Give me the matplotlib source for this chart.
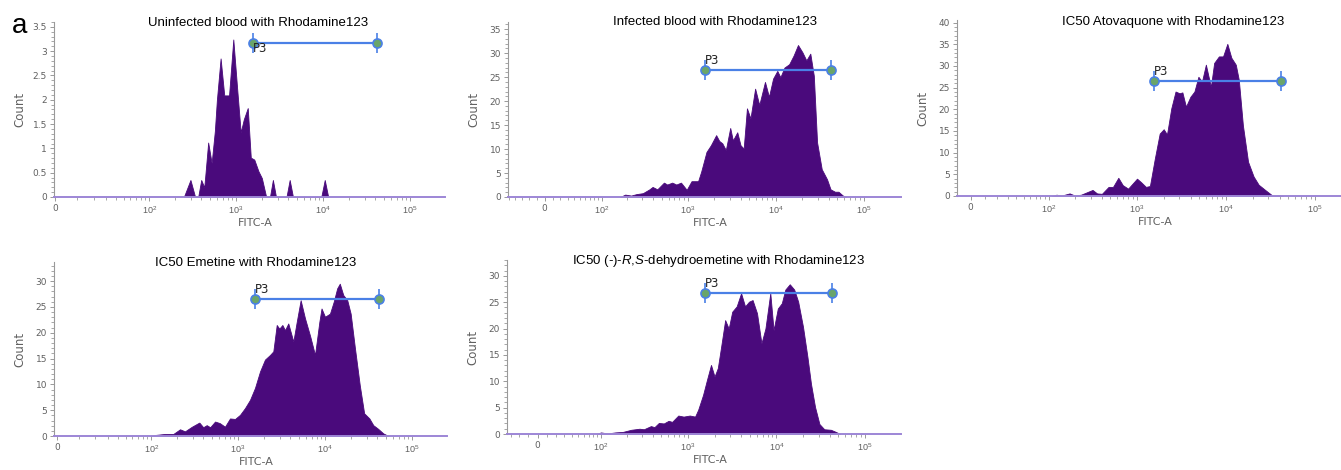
import numpy as np
import matplotlib
matplotlib.use("Agg")
import matplotlib.pyplot as plt
from matplotlib.ticker import FixedLocator, MultipleLocator, FuncFormatter

plt.rcParams['mathtext.fontset'] = 'custom'
plt.rcParams['mathtext.rm'] = 'Liberation Sans'
plt.rcParams['mathtext.it'] = 'Liberation Sans:italic'

W, H, DPI = 1341, 470, 100

# ---- histogram data: log10(FITC-A) and event count ----
uninfected_log = [2.40, 2.476, 2.53, 2.565, 2.60, 2.635, 2.65, 2.68, 2.72, 2.757, 2.78, 2.823,
                  2.865, 2.92, 2.969, 3.015, 3.054, 3.09, 3.135, 3.17, 3.21, 3.258, 3.297, 3.347,
                  3.39, 3.424, 3.46, 3.58, 3.617, 3.655, 3.98, 4.02, 4.06]
uninfected_count = [0, 0.35, 0, 0, 0.35, 0.2, 0.5, 1.12, 0.70, 1.36, 1.99, 2.85,
                    2.09, 2.09, 3.24, 2.19, 1.33, 1.6, 1.83, 0.81, 0.77, 0.53, 0.39, 0,
                    0, 0.35, 0, 0, 0.35, 0, 0, 0.35, 0]

infected_log = [2.22, 2.28, 2.35, 2.41, 2.485, 2.56, 2.596, 2.65, 2.726, 2.763, 2.82, 2.867,
                2.92, 2.985, 3.04, 3.115, 3.15, 3.21, 3.26, 3.32, 3.355, 3.39, 3.43, 3.48,
                3.51, 3.56, 3.597, 3.633, 3.67, 3.71, 3.763, 3.81, 3.875, 3.92, 3.967, 4.015,
                4.05, 4.096, 4.15, 4.2, 4.25, 4.3, 4.345, 4.39, 4.43, 4.467, 4.52, 4.58,
                4.62, 4.67, 4.71, 4.76, 4.80]
infected_count = [0, 0.5, 0.3, 0.6, 0.8, 1.6, 2.1, 1.6, 3.0, 2.6, 3.0, 2.6,
                  3.0, 1.5, 3.3, 3.3, 5.3, 9.4, 10.8, 12.9, 11.7, 11.2, 9.8, 14.4,
                  11.8, 13.5, 10.8, 10.1, 18.5, 16.4, 22.6, 19.2, 24.0, 20.9, 24.7, 26.3,
                  25.0, 27.0, 27.7, 29.5, 31.7, 30.2, 28.5, 29.9, 25.3, 11.4, 5.8, 3.7,
                  1.6, 1.1, 1.1, 0.3, 0]

atovaquone_log = [2.04, 2.09, 2.15, 2.24, 2.30, 2.37, 2.5, 2.55, 2.605, 2.68, 2.73, 2.79,
                  2.84, 2.90, 3.0, 3.045, 3.10, 3.145, 3.2, 3.255, 3.3, 3.337, 3.385, 3.433,
                  3.478, 3.51, 3.55, 3.6, 3.645, 3.69, 3.73, 3.774, 3.8, 3.83, 3.867, 3.92,
                  3.967, 4.015, 4.06, 4.11, 4.144, 4.19, 4.248, 4.31, 4.367, 4.44, 4.515, 4.55,
                  4.59, 4.64]
atovaquone_count = [0, 0.3, 0.1, 0.6, 0.1, 0.3, 1.4, 0.6, 0.5, 2.1, 2.1, 4.2,
                    2.5, 1.7, 4.0, 3.2, 2.1, 2.3, 8.6, 14.4, 15.4, 14.2, 20.2, 24.1,
                    23.7, 23.9, 20.6, 22.9, 24.1, 27.5, 26.4, 30.3, 27.9, 25.2, 30.7, 32.2,
                    32.2, 35.1, 31.9, 30.3, 26.8, 16.3, 7.9, 4.5, 2.6, 1.4, 0.2, 0.1,
                    0.2, 0]

emetine_log = [1.98, 2.046, 2.16, 2.256, 2.333, 2.39, 2.47, 2.555, 2.6, 2.64, 2.68, 2.736,
               2.79, 2.85, 2.908, 2.966, 3.023, 3.08, 3.138, 3.195, 3.253, 3.31, 3.368, 3.406,
               3.445, 3.475, 3.51, 3.54, 3.578, 3.636, 3.675, 3.72, 3.77, 3.83, 3.885, 3.935,
               3.96, 4.0, 4.057, 4.1, 4.14, 4.17, 4.21, 4.256, 4.295, 4.345, 4.4, 4.45,
               4.51, 4.555, 4.61, 4.67, 4.73]
emetine_count = [0, 0.2, 0.4, 0.4, 1.3, 0.9, 1.8, 2.6, 1.7, 2.1, 1.7, 2.8,
                 2.5, 1.8, 3.4, 3.3, 4.1, 5.4, 7.0, 9.3, 12.5, 14.8, 15.7, 16.4,
                 21.5, 20.8, 21.5, 20.5, 21.8, 18.3, 22.1, 26.3, 22.8, 19.3, 15.7, 22.1,
                 24.7, 23.1, 23.7, 26.0, 28.6, 29.5, 27.3, 26.3, 23.7, 16.9, 9.8, 4.4,
                 3.4, 2.1, 1.4, 0.5, 0]

dehydroemetine_log = [1.95, 2.0, 2.08, 2.17, 2.26, 2.355, 2.45, 2.5, 2.58, 2.62, 2.67, 2.726,
                      2.78, 2.82, 2.89, 2.95, 3.02, 3.08, 3.115, 3.17, 3.215, 3.26, 3.3, 3.337,
                      3.375, 3.42, 3.46, 3.5, 3.55, 3.6, 3.645, 3.69, 3.73, 3.78, 3.83, 3.875,
                      3.93, 3.967, 4.015, 4.06, 4.1, 4.15, 4.2, 4.245, 4.3, 4.35, 4.39, 4.436,
                      4.485, 4.54, 4.615, 4.67, 4.72]
dehydroemetine_count = [0, 0.3, 0.1, 0.3, 0.4, 0.8, 1.0, 0.9, 1.5, 1.3, 2.1, 2.0,
                        2.5, 2.3, 3.5, 3.3, 3.5, 3.3, 4.6, 7.4, 10.3, 13.1, 10.9, 12.5,
                        16.6, 21.6, 20.0, 23.2, 24.2, 26.7, 24.2, 25.1, 25.4, 22.9, 17.2, 20.0,
                        26.7, 19.7, 23.8, 24.8, 27.4, 28.4, 27.4, 25.1, 20.3, 14.6, 9.5, 5.1,
                        1.9, 0.9, 0.8, 0.4, 0]

titles = ["Uninfected blood with Rhodamine123",
          "Infected blood with Rhodamine123",
          "IC50 Atovaquone with Rhodamine123",
          "IC50 Emetine with Rhodamine123",
          r"IC50 (-)-$\mathit{R}$,$\mathit{S}$-dehydroemetine with Rhodamine123"]

# P3 gate: FITC-A range and drawing height (count units)
gate_low, gate_high = 1550, 42000
gate_height = [3.17, 26.5, 26.6, 26.5, 26.8]

series = [(uninfected_log, uninfected_count),
          (infected_log, infected_count),
          (atovaquone_log, atovaquone_count),
          (emetine_log, emetine_count),
          (dehydroemetine_log, dehydroemetine_count)]

# ---- layout (pixel boxes) and biexponential-like axis width per panel ----
layout = [
    dict(box=(54, 445, 22, 197), px1000=236, dec=87.0, a=16.7, ymax=3.6, major=0.5, minor=0.1,
         title_xy=(258, 23), p3_below=True),
    dict(box=(508, 901, 22, 197), px1000=688, dec=88.0, a=47.0, ymax=36.5, major=5, minor=1,
         title_xy=(715, 22), p3_below=False),
    dict(box=(957, 1341, 20, 196), px1000=1137, dec=89.0, a=27.0, ymax=40.6, major=5, minor=1,
         title_xy=(1173, 22), p3_below=False),
    dict(box=(54, 447, 262, 436), px1000=238, dec=87.0, a=16.6, ymax=33.7, major=5, minor=1,
         title_xy=(256, 263), p3_below=False),
    dict(box=(507, 901, 260, 434), px1000=688, dec=88.5, a=40.0, ymax=33.0, major=5, minor=1,
         title_xy=(719, 261), p3_below=False),
]

FILL = '#4a0a7c'
BASE = '#9d86d6'
GATE = '#4a80e6'
GREY = '#999999'
TXT = '#606060'

fig = plt.figure(figsize=(W / DPI, H / DPI), dpi=DPI)

minor_x = ([-k * 10 for k in range(1, 10)] + [k * 10 for k in range(1, 10)]
           + [k * 10 ** n for n in (2, 3, 4) for k in range(2, 10)])

for (logx, cnt), title, gy, lay in zip(series, titles, gate_height, layout):
    L, R, T, B = lay['box']
    ax = fig.add_axes([L / W, 1 - B / H, (R - L) / W, (B - T) / H])
    a = lay['a']
    fwd = lambda x, a=a: np.arcsinh(np.asarray(x, dtype=float) / a) / np.log(10)
    inv = lambda p, a=a: a * np.sinh(np.asarray(p, dtype=float) * np.log(10))
    ax.set_xscale('function', functions=(fwd, inv))
    p1000 = fwd(1000.0)
    p_left = p1000 + (L - lay['px1000']) / lay['dec']
    p_right = p1000 + (R - lay['px1000']) / lay['dec']
    ax.set_xlim(inv(p_left), inv(p_right))
    ax.set_ylim(0, lay['ymax'])

    x = 10 ** np.asarray(logx)
    y = np.asarray(cnt)
    ax.fill_between(x, 0, y, color=FILL, lw=0.6, edgecolor=FILL, zorder=2)

    # gate P3
    gx = [gate_low, gate_high]
    ax.plot(gx, [gy, gy], color=GATE, lw=1.6, zorder=4, clip_on=False)
    ax.plot(gx, [gy, gy], ls='none', marker='|', ms=15, mew=1.2, color=GATE, zorder=4,
            clip_on=False)
    ax.plot(gx, [gy, gy], ls='none', marker='o', ms=6.5, mfc='#6aa56a', mec=GATE, mew=1.2,
            zorder=5, clip_on=False)
    if lay['p3_below']:
        ax.annotate('P3', (gate_low, gy), xytext=(0, 1), textcoords='offset points',
                    ha='left', va='top', fontsize=8.5, color='#222222', zorder=6)
    else:
        ax.annotate('P3', (gate_low, gy), xytext=(0, 2), textcoords='offset points',
                    ha='left', va='bottom', fontsize=8.5, color='#222222', zorder=6)

    # axes styling
    for s in ('top', 'right'):
        ax.spines[s].set_visible(False)
    ax.spines['left'].set_color(GREY)
    ax.spines['left'].set_linewidth(0.8)
    ax.spines['bottom'].set_color(BASE)
    ax.spines['bottom'].set_linewidth(1.4)
    ax.spines['bottom'].set_zorder(3)

    ax.set_xticks([0, 1e2, 1e3, 1e4, 1e5])
    ax.set_xticklabels(['0', '$10^2$', '$10^3$', '$10^4$', '$10^5$'])
    xl = ax.get_xlim()
    ax.xaxis.set_minor_locator(FixedLocator([v for v in minor_x if xl[0] < v < xl[1]]))
    ax.yaxis.set_major_locator(MultipleLocator(lay['major']))
    ax.yaxis.set_minor_locator(MultipleLocator(lay['minor']))
    ax.yaxis.set_major_formatter(FuncFormatter(lambda v, p: '%g' % v))
    ax.tick_params(which='major', length=3, width=0.7, color=GREY, labelsize=6.5,
                   labelcolor=TXT, pad=2)
    ax.tick_params(which='minor', length=2.2, width=0.6, color=GREY)
    ax.tick_params(axis='x', which='major', pad=2)

    ax.set_ylabel('Count', fontsize=8.5, color=TXT)
    ax.yaxis.set_label_coords(-34 / (R - L), 0.5)
    ax.set_xlabel('FITC-A', fontsize=8, color=TXT)
    ax.xaxis.set_label_coords(0.5 + 6 / (R - L), -26 / (B - T))
    ax.xaxis.label.set_va('center')
    ax.yaxis.label.set_va('center')

    tx, ty = lay['title_xy']
    fig.text(tx / W, 1 - ty / H, title, ha='center', va='center', fontsize=9.5,
             family='Liberation Sans', color='black')

fig.text(20 / W, 1 - 26 / H, 'a', ha='center', va='center', fontsize=20,
         family='Liberation Sans', color='black')

fig.savefig('out.png', dpi=DPI)
